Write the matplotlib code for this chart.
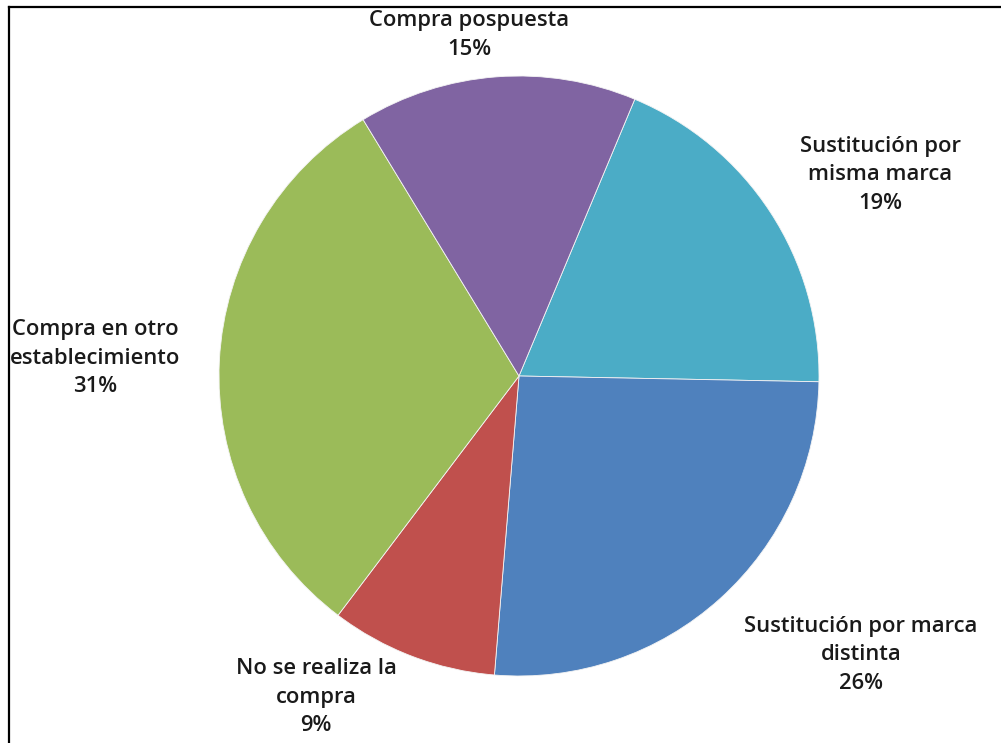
import matplotlib.pyplot as plt

# slices listed clockwise starting at the top-right wedge
categories = ['Sustitución por\nmisma marca',
              'Sustitución por marca\ndistinta',
              'No se realiza la\ncompra',
              'Compra en otro\nestablecimiento',
              'Compra pospuesta']
values = [19, 26, 9, 31, 15]
colors = ['#4BACC6', '#4F81BD', '#C0504D', '#9BBB59', '#8064A2']

# label anchor points (pixels from top-left) for each wedge
label_pos = [(880, 175), (861, 655), (316, 697), (95, 358), (469, 35)]

W, H = 1001, 743
fig = plt.figure(figsize=(W / 100, H / 100), dpi=100)
ax = fig.add_axes([0, 0, 1, 1])

cx, cy, r = 519, 376, 300
ax.pie(values, colors=colors, startangle=67.3, counterclock=False,
       center=(cx, H - cy), radius=r,
       wedgeprops=dict(edgecolor='#f4f4f4', linewidth=0.6))

total = sum(values)
for name, v, (x, y) in zip(categories, values, label_pos):
    txt = f"{name}\n{v / total * 100:.0f}%"
    ax.text(x, H - y, txt, ha='center', va='center', fontsize=15.8,
            family='Open Sans', fontweight='semibold', color='#1a1a1a',
            linespacing=1.45)

# frame lines along the top and left edges
ax.plot([8.5, W], [H - 6.5, H - 6.5], color='black', lw=1.6, clip_on=False)
ax.plot([8.5, 8.5], [0, H - 6.5], color='black', lw=1.6, clip_on=False)

ax.set_xlim(0, W)
ax.set_ylim(0, H)
ax.axis('off')

fig.savefig('out.png', dpi=100)
